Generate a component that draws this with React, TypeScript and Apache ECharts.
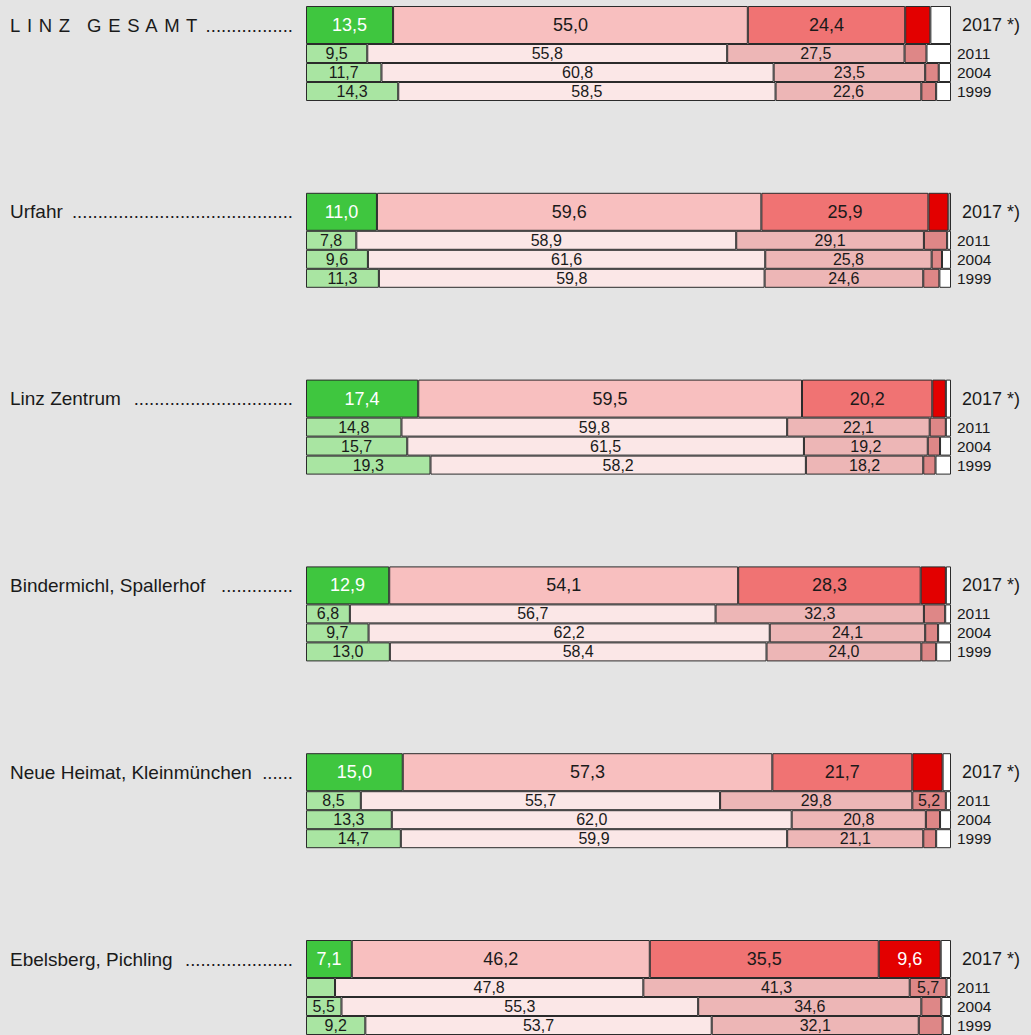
import React, { useEffect, useRef } from "react";
import * as echarts from "echarts";

// ---- data ----
const regionNames = [
  "L\u200A I\u200A N\u200A Z\u200A   G\u200A E\u200A S\u200A A\u200A M\u200A T",
  "Urfahr",
  "Linz Zentrum",
  "Bindermichl, Spallerhof",
  "Neue Heimat, Kleinmünchen",
  "Ebelsberg, Pichling",
];
const regionDots = [
  ".................",
  "...........................................",
  "...............................",
  "..............",
  "......",
  ".....................",
];
const bigYear = "2017 *)";
const smallYears = ["2011", "2004", "1999"];

// order per region: 2017, 2011, 2004, 1999
const greenValues = [
  [13.5, 9.5, 11.7, 14.3],
  [11.0, 7.8, 9.6, 11.3],
  [17.4, 14.8, 15.7, 19.3],
  [12.9, 6.8, 9.7, 13.0],
  [15.0, 8.5, 13.3, 14.7],
  [7.1, 4.5, 5.5, 9.2],
];
const pinkValues = [
  [55.0, 55.8, 60.8, 58.5],
  [59.6, 58.9, 61.6, 59.8],
  [59.5, 59.8, 61.5, 58.2],
  [54.1, 56.7, 62.2, 58.4],
  [57.3, 55.7, 62.0, 59.9],
  [46.2, 47.8, 55.3, 53.7],
];
const salmonValues = [
  [24.4, 27.5, 23.5, 22.6],
  [25.9, 29.1, 25.8, 24.6],
  [20.2, 22.1, 19.2, 18.2],
  [28.3, 32.3, 24.1, 24.0],
  [21.7, 29.8, 20.8, 21.1],
  [35.5, 41.3, 34.6, 32.1],
];
const redValues = [
  [3.9, 3.4, 2.1, 2.3],
  [3.1, 3.6, 1.6, 2.5],
  [2.1, 2.5, 1.9, 1.9],
  [3.9, 3.3, 2.0, 2.3],
  [4.7, 5.2, 2.2, 2.0],
  [9.6, 5.7, 3.1, 3.7],
];
const restValues = [
  [3.2, 3.8, 1.9, 2.3],
  [0.4, 0.6, 1.4, 1.8],
  [0.8, 0.8, 1.7, 2.4],
  [0.8, 0.9, 2.0, 2.3],
  [1.3, 0.8, 1.7, 2.3],
  [1.6, 0.7, 1.5, 1.3],
];

const FONT = "'Liberation Sans', Arial, Helvetica, sans-serif";
const TEXT = "#1a1a1a";

const segments = [
  { name: "green", values: greenValues, c17: "#3fc63f", cOld: "#a9e5a2", t17: "#ffffff" },
  { name: "pink", values: pinkValues, c17: "#f8bfbf", cOld: "#fbe7e7", t17: TEXT },
  { name: "salmon", values: salmonValues, c17: "#f07373", cOld: "#edb6b6", t17: TEXT },
  { name: "red", values: redValues, c17: "#e30000", cOld: "#de8787", t17: "#ffffff" },
  { name: "rest", values: restValues, c17: "#ffffff", cOld: "#ffffff", t17: TEXT },
];

function fmt(p: any) {
  const v = Number(p.value);
  return v >= 5 ? v.toFixed(1).replace(".", ",") : "";
}

export default function App() {
  const ref = useRef<HTMLDivElement>(null);
  useEffect(() => {
    document.body.style.margin = "0";
    const chart = echarts.init(ref.current!, undefined, { renderer: "svg" });
    const grids: any[] = [];
    const xAxes: any[] = [];
    const yAxes: any[] = [];
    const series: any[] = [];
    const L = 306;
    const R = 1031 - 951;
    const bigH = 38;
    const smallH = 57;
    const common = {
      type: "category",
      axisLine: { show: false },
      axisTick: { show: false },
      splitLine: { show: false },
    };
    regionNames.forEach((name, r) => {
      const top = 6 + 186.8 * r;
      grids.push({ left: L, right: R, top, height: bigH });
      grids.push({ left: L, right: R, top: top + bigH, height: smallH });
      [2 * r, 2 * r + 1].forEach((gi) =>
        xAxes.push({ gridIndex: gi, type: "value", min: 0, max: 100, show: false })
      );
      const base = yAxes.length;
      yAxes.push({
        ...common,
        gridIndex: 2 * r,
        position: "left",
        data: [name],
        axisLabel: { align: "left", margin: L - 10, fontSize: r === 0 ? 18.5 : 19, color: TEXT, fontFamily: FONT },
      });
      yAxes.push({
        ...common,
        gridIndex: 2 * r,
        position: "left",
        data: [regionDots[r]],
        axisLabel: { align: "right", margin: 13, fontSize: 18.5, color: TEXT, fontFamily: FONT },
      });
      yAxes.push({
        ...common,
        gridIndex: 2 * r,
        position: "right",
        data: [bigYear],
        axisLabel: { margin: 11, fontSize: 18, color: TEXT, fontFamily: FONT },
      });
      yAxes.push({
        ...common,
        gridIndex: 2 * r + 1,
        position: "right",
        inverse: true,
        data: smallYears,
        axisLabel: { interval: 0, margin: 6, fontSize: 15.5, color: TEXT, fontFamily: FONT },
      });
      segments.forEach((s) => {
        const vals = s.values[r];
        series.push({
          type: "bar",
          name: s.name,
          xAxisIndex: 2 * r,
          yAxisIndex: base + 2,
          stack: "big" + r,
          barWidth: "100%",
          data: [vals[0]],
          itemStyle: { color: s.c17, borderColor: "#2b2b2b", borderWidth: 1 },
          label: { show: true, position: "inside", formatter: fmt, fontSize: 18, color: s.t17, fontFamily: FONT },
        });
        series.push({
          type: "bar",
          name: s.name,
          xAxisIndex: 2 * r + 1,
          yAxisIndex: base + 3,
          stack: "small" + r,
          barWidth: "100%",
          data: vals.slice(1),
          itemStyle: { color: s.cOld, borderColor: "#2b2b2b", borderWidth: 1 },
          label: { show: true, position: "inside", formatter: fmt, fontSize: 16, color: TEXT, fontFamily: FONT },
        });
      });
    });
    chart.setOption({
      animation: false,
      backgroundColor: "#e4e4e4",
      textStyle: { fontFamily: FONT },
      grid: grids,
      xAxis: xAxes,
      yAxis: yAxes,
      series,
    });
    return () => chart.dispose();
  }, []);
  return <div ref={ref} style={{ width: 1031, height: 1035 }} />;
}
